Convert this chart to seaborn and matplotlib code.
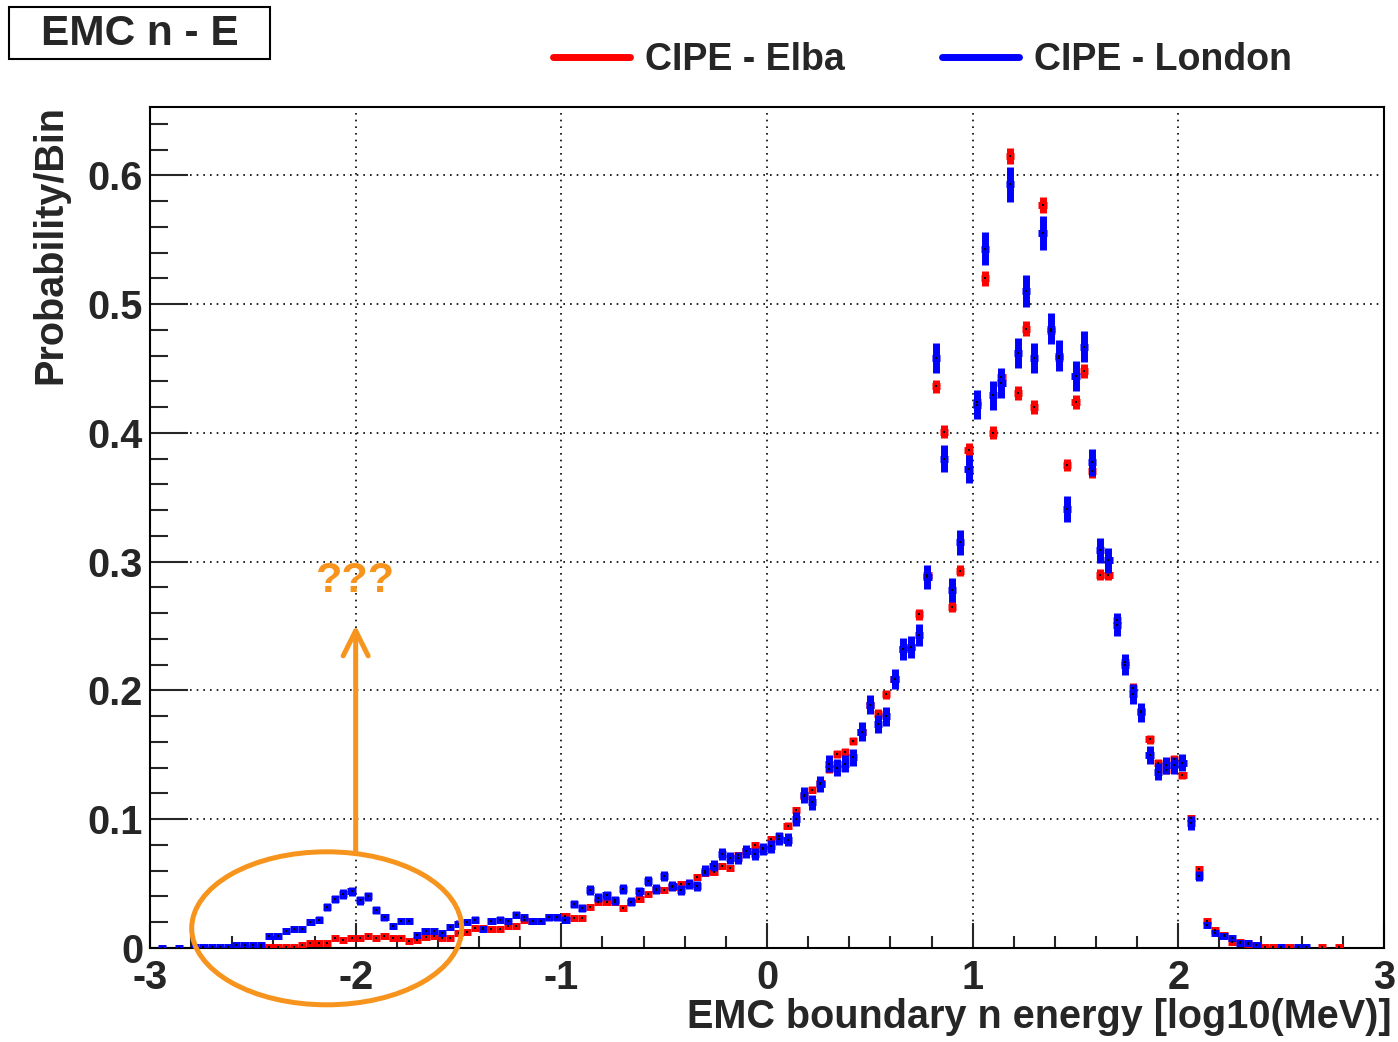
import numpy as np
import pandas as pd
import matplotlib
matplotlib.use('Agg')
import matplotlib.pyplot as plt
import seaborn as sns
from matplotlib.patches import Ellipse, Rectangle
from matplotlib.lines import Line2D
from matplotlib.ticker import MultipleLocator, FuncFormatter

# histogram binning: 150 bins of 0.04 between -3 and 3 (log10 MeV)
BIN_LO = -3.0
BIN_W = 0.04
N_BINS = 150

nan = np.nan
# probability per bin (nan = empty bin, not drawn)
london = [
    nan, 0.0003, nan, 0.0003, nan, 0.0005, 0.0006, 0.0006, 0.0006, 0.0006,
    0.002, 0.002, 0.002, 0.002, 0.009, 0.009, 0.013, 0.0145, 0.0145, 0.020,
    0.022, 0.032, 0.038, 0.042, 0.044, 0.037, 0.040, 0.0295, 0.024, 0.017,
    0.021, 0.021, 0.010, 0.013, 0.013, 0.012, 0.0165, 0.019, 0.020, 0.022,
    0.015, 0.021, 0.022, 0.021, 0.026, 0.024, 0.021, 0.021, 0.024, 0.024,
    0.022, 0.034, 0.031, 0.045, 0.039, 0.041, 0.037, 0.046, 0.036, 0.044,
    0.052, 0.046, 0.056, 0.048, 0.045, 0.050, 0.048, 0.060, 0.064, 0.073,
    0.070, 0.070, 0.075, 0.073, 0.077, 0.079, 0.085, 0.084, 0.100, 0.119,
    0.113, 0.127, 0.143, 0.140, 0.143, 0.148, 0.168, 0.189, 0.174, 0.180,
    0.209, 0.232, 0.234, 0.243, 0.288, 0.458, 0.380, 0.278, 0.315, 0.372,
    0.422, 0.543, 0.429, 0.439, 0.593, 0.462, 0.510, 0.458, 0.555, 0.481,
    0.460, 0.341, 0.444, 0.467, 0.377, 0.309, 0.301, 0.251, 0.220, 0.197,
    0.183, 0.150, 0.137, 0.142, 0.142, 0.144, 0.097, 0.056, 0.018, 0.012,
    0.009, 0.008, 0.004, 0.004, 0.002, nan, nan, 0.001, nan, 0.001,
    0.001, nan, nan, nan, nan, nan, nan, nan, nan, nan,
]
elba = [
    nan, nan, nan, nan, nan, nan, nan, nan, nan, nan,
    nan, 0.0003, 0.0003, 0.0005, 0.0005, 0.0005, 0.0005, 0.0005, 0.002, 0.004,
    0.0036, 0.004, 0.0075, 0.0062, 0.0075, 0.0075, 0.0093, 0.0075, 0.0093, 0.0075,
    0.0075, 0.0057, 0.0062, 0.0088, 0.0093, 0.0075, 0.0075, 0.0114, 0.0127, 0.0153,
    0.0153, 0.0145, 0.0145, 0.017, 0.017, 0.0217, 0.021, 0.021, 0.024, 0.024,
    0.025, 0.023, 0.023, 0.032, 0.036, 0.036, 0.036, 0.031, 0.036, 0.038,
    0.042, 0.045, 0.045, 0.047, 0.050, 0.050, 0.055, 0.058, 0.059, 0.064,
    0.062, 0.072, 0.075, 0.080, 0.078, 0.085, 0.087, 0.095, 0.107, 0.118,
    0.123, 0.128, 0.139, 0.151, 0.152, 0.161, 0.168, 0.189, 0.182, 0.197,
    0.209, 0.232, 0.234, 0.259, 0.290, 0.436, 0.401, 0.265, 0.293, 0.387,
    0.424, 0.520, 0.400, 0.443, 0.615, 0.431, 0.481, 0.420, 0.577, 0.479,
    0.458, 0.375, 0.424, 0.448, 0.370, 0.290, 0.290, 0.255, 0.222, 0.202,
    0.184, 0.162, 0.144, 0.138, 0.147, 0.134, 0.101, 0.0615, 0.021, 0.014,
    0.010, 0.005, 0.005, 0.003, 0.002, 0.001, 0.001, 0.001, 0.001, nan,
    nan, nan, 0.0008, nan, 0.0008, nan, nan, nan, nan, nan,
]
# statistical error scale of each sample (err = k * sqrt(p))
err_scale = {'CIPE - Elba': 0.008, 'CIPE - London': 0.0175}
colors = {'CIPE - Elba': '#ff0000', 'CIPE - London': '#0000ff'}

ORANGE = '#f7941e'
W, H = 1398, 1042

sns.set_style('ticks')
plt.rcParams['font.family'] = ['Liberation Sans', 'DejaVu Sans']
plt.rcParams['font.weight'] = 'bold'

centers = BIN_LO + BIN_W * (np.arange(N_BINS) + 0.5)
df = pd.concat([
    pd.DataFrame({'x': centers, 'p': elba, 'sample': 'CIPE - Elba'}),
    pd.DataFrame({'x': centers, 'p': london, 'sample': 'CIPE - London'}),
]).dropna()
df['err'] = df['sample'].map(err_scale) * np.sqrt(df['p'])

fig = plt.figure(figsize=(W / 100, H / 100), dpi=100)
ax = fig.add_axes([150 / W, 1 - 948 / H, 1234 / W, 841 / H])

for name in ['CIPE - Elba', 'CIPE - London']:
    d = df[df['sample'] == name]
    ax.errorbar(d['x'], d['p'], xerr=BIN_W / 2, yerr=d['err'], fmt='none',
                ecolor=colors[name], elinewidth=5, capsize=0, zorder=3)
    sns.scatterplot(data=d, x='x', y='p', ax=ax, color='black', marker='s',
                    s=2.5, linewidth=0, zorder=4, legend=False)

ax.set_xlim(-3, 3)
ax.set_ylim(0, 0.653)
ax.set_xlabel('')
ax.set_ylabel('')
ax.xaxis.set_major_locator(MultipleLocator(1))
ax.xaxis.set_minor_locator(MultipleLocator(0.2))
ax.yaxis.set_major_locator(MultipleLocator(0.1))
ax.yaxis.set_minor_locator(MultipleLocator(0.02))
ax.xaxis.set_major_formatter(FuncFormatter(lambda v, _: f'{int(round(v))}'))
ax.yaxis.set_major_formatter(FuncFormatter(lambda v, _: '0' if abs(v) < 1e-9 else f'{v:.1f}'))
ax.tick_params(axis='y', which='major', direction='in', length=27, width=1.5,
               labelsize=28.5, pad=5)
ax.tick_params(axis='y', which='minor', direction='in', length=13, width=1.5)
ax.tick_params(axis='x', which='major', direction='in', length=18, width=1.5,
               labelsize=28.5, pad=8)
ax.tick_params(axis='x', which='minor', direction='in', length=9, width=1.5)
for lab in ax.get_xticklabels() + ax.get_yticklabels():
    lab.set_fontweight('bold')
ax.grid(True, which='major', color='black', linestyle=(0, (1, 3)), linewidth=1.2)
for sp in ax.spines.values():
    sp.set_visible(True)
    sp.set_linewidth(1.5)
    sp.set_color('black')

# axis titles, ROOT style
fig.text(50 / W, 1 - 105 / H, 'Probability/Bin', rotation=90, ha='center',
         va='top', fontsize=28.5, fontweight='bold')
fig.text(1392 / W, 1 - 1017 / H, 'EMC boundary n energy [log10(MeV)]',
         ha='right', va='center', fontsize=28.5, fontweight='bold')

# title box
fig.add_artist(Rectangle((9 / W, 1 - 59 / H), 261 / W, 52 / H, transform=fig.transFigure,
                         fill=False, edgecolor='black', linewidth=1.5))
fig.text(139.5 / W, 1 - 34 / H, 'EMC n - E', ha='center', va='center',
         fontsize=30.5, fontweight='bold')

# legend
handles = [Line2D([], [], color=colors[n], lw=5) for n in ['CIPE - Elba', 'CIPE - London']]
fig.legend(handles, ['CIPE - Elba', 'CIPE - London'], loc='center left',
           bbox_to_anchor=(553 / W, 1 - 60 / H), ncol=2, frameon=False,
           prop={'size': 27, 'weight': 'bold'}, handlelength=2.05,
           handletextpad=0.4, columnspacing=2.6, borderpad=0, borderaxespad=0)

# annotation: ellipse, arrow and question marks
fig.add_artist(Ellipse((326.7 / W, 1 - 928.3 / H), 270 / W, 153 / H,
                       transform=fig.transFigure, fill=False,
                       edgecolor=ORANGE, linewidth=3.6, zorder=10))
ax.annotate('', xy=(-2, 0.2506), xytext=(-2, 0.0737),
            arrowprops=dict(arrowstyle='->,head_length=0.9,head_width=0.45',
                            color=ORANGE, lw=3.6, mutation_scale=20,
                            shrinkA=0, shrinkB=0),
            annotation_clip=False, zorder=10)
ax.text(-2, 0.285, '???', ha='center', va='center', fontsize=31,
        fontweight='bold', color=ORANGE, zorder=10)

fig.savefig('out.png', dpi=100)
